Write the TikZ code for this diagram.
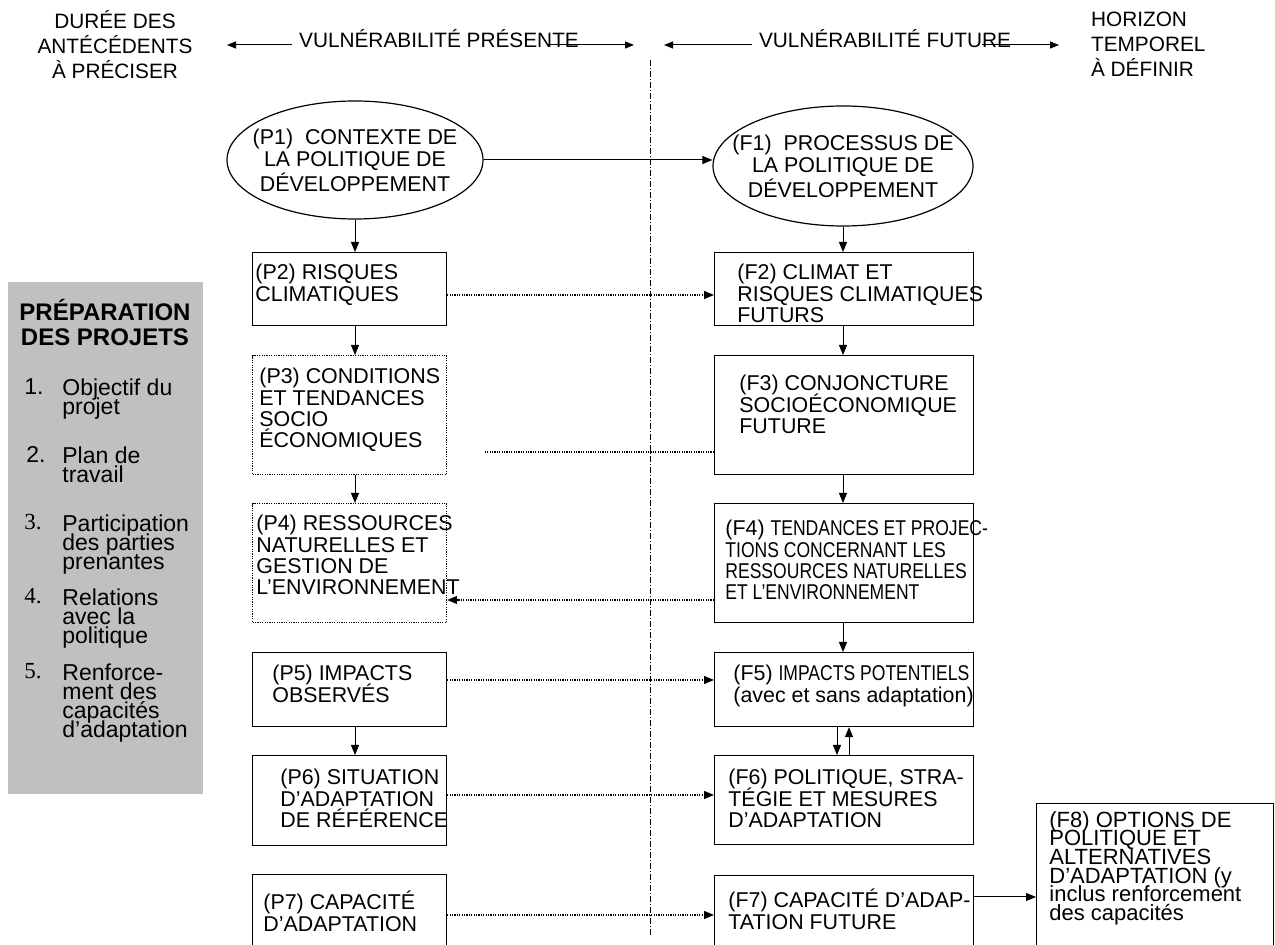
\documentclass[tikz,border=0pt]{standalone}
\usepackage{fontspec}
\setmainfont{Liberation Sans}
\newfontfamily\narrowfont[FakeStretch=0.82]{Liberation Sans}
\newfontfamily\numserif{Liberation Serif}
\usepackage{tikz}
\usetikzlibrary{arrows.meta,shapes.geometric,calc}
\definecolor{panelgray}{RGB}{192,192,192}
\newcommand{\boxfont}{\fontsize{10.7}{10.6}\selectfont\lineskiplimit=-20pt\relax}
\newcommand{\hdfont}{\fontsize{10.4}{12.5}\selectfont}
\newcommand{\ovalfont}{\fontsize{10.7}{11.3}\selectfont}
\newcommand{\titlefont}{\fontsize{12}{12.5}\selectfont\bfseries}
\newcommand{\itemfont}{\fontsize{11.5}{9.6}\selectfont\lineskiplimit=-20pt\relax}
\newcommand{\optfont}{\fontsize{11}{9.3}\selectfont\lineskiplimit=-20pt\relax}
\tikzset{%
  pbox/.style={draw,line width=0.6pt,anchor=north west,inner sep=0pt,minimum width=97pt},
  fbox/.style={draw,line width=0.6pt,anchor=north west,inner sep=0pt,minimum width=129.5pt},
  arrow/.style={-{Triangle[length=5pt,width=4pt]}, line width=0.5pt}%
}

\begin{document}
\begin{tikzpicture}[
    x=0.5pt, y=-0.5pt,
    font=\boxfont,
    oval/.style={
        draw,
        ellipse,
        line width=0.6pt,
        align=center,
        inner xsep=-12pt,
        inner ysep=3pt,
        font=\ovalfont
    },
    txt/.style={anchor=north west, inner sep=0pt, align=left},
    hdtext/.style={font=\hdfont},
    hdarrow/.style={-{Triangle[length=4.5pt,width=3.5pt]}, line width=0.5pt},
    dotbox/.style={dash pattern=on 0.6pt off 0.6pt},
    dotline/.style={dash pattern=on 0.6pt off 0.6pt, line width=0.65pt},
    dotarrow/.style={arrow, dotline},
    divider/.style={dash pattern=on 3pt off 1pt on 0.5pt off 1pt, line width=0.5pt},
    panel/.style={fill=panelgray, anchor=north west, inner sep=0pt},
    item/.style={anchor=north west, inner sep=0pt, align=left, font=\itemfont}
]
\useasboundingbox (0,0) rectangle (1275,945);

% Header: time spans
\node[hdtext, align=center] (hdpast) at (115,45) {DURÉE DES\\ANTÉCÉDENTS\\À PRÉCISER};
\node[hdtext, align=left, anchor=west] (hdfut) at (1084,44) {HORIZON\\TEMPOREL\\À DÉFINIR};
\node[hdtext, anchor=base] (vpres) at (439,48) {VULNÉRABILITÉ PRÉSENTE};
\node[hdtext, anchor=base] (vfut) at (885,48) {VULNÉRABILITÉ FUTURE};

\coordinate (pastend) at (227,45);
\coordinate (presgap) at (547,45);
\coordinate (presend) at (634,45);
\coordinate (futstart) at (664,45);
\coordinate (futgap) at (982,45);
\coordinate (futend) at (1059,45);
\draw[hdarrow] (vpres.west |- pastend) -- (pastend);
\draw[hdarrow] (presgap) -- (presend);
\draw[hdarrow] (vfut.west |- futstart) -- (futstart);
\draw[hdarrow] (futgap) -- (futend);

% Present / future divider
\coordinate (divtop) at (650,60);
\coordinate (divbot) at (650,935);
\draw[divider] (divtop) -- (divbot);

% Project preparation panel
\node[panel, minimum width=97.5pt, minimum height=256pt] (prep) at (8,282) {};
\node[font=\titlefont, align=center, anchor=north] (preptitle) at (105,292) {PRÉPARATION\\DES PROJETS};
\node[item] (num1) at (24,378) {1.};
\node[item] (item1) at (62,378) {Objectif du\\projet};
\node[item] (num2) at (26,446) {2.};
\node[item] (item2) at (62,446) {Plan de\\travail};
\node[item, font=\itemfont\numserif] (num3) at (24,514) {3.};
\node[item] (item3) at (62,514) {Participation\\des parties\\prenantes};
\node[item, font=\itemfont\numserif] (num4) at (24,588) {4.};
\node[item] (item4) at (62,588) {Relations\\avec la\\politique};
\node[item, font=\itemfont\numserif] (num5) at (24,663) {5.};
\node[item] (item5) at (62,663) {Renforce-\\ment des\\capacités\\d’adaptation};

% Development policy ovals
\node[oval, minimum width=128pt, minimum height=59pt] (p1) at (355,160)
{(P1)~ CONTEXTE DE\\LA POLITIQUE DE\\DÉVELOPPEMENT};
\node[oval, minimum width=130pt, minimum height=60pt] (f1) at (843,166)
{(F1)~ PROCESSUS DE\\LA POLITIQUE DE\\DÉVELOPPEMENT};

% Present vulnerability boxes
\node[pbox, minimum height=36.5pt] (p2) at (252,252) {};
\node[pbox, dotbox, minimum height=59.5pt] (p3) at (252,355) {};
\node[pbox, dotbox, minimum height=59.5pt] (p4) at (252,503) {};
\node[pbox, minimum height=37pt] (p5) at (252,652) {};
\node[pbox, minimum height=45pt] (p6) at (252,755) {};
\node[pbox, minimum height=43pt] (p7) at (252,874) {};

\node[txt] (p2t) at (255,264) {(P2) RISQUES\\CLIMATIQUES};
\node[txt] (p3t) at (259,368) {(P3) CONDITIONS\\ET TENDANCES\\SOCIO\\ÉCONOMIQUES};
\node[txt] (p4t) at (256,515) {(P4) RESSOURCES\\NATURELLES ET\\GESTION DE\\L’ENVIRONNEMENT};
\node[txt] (p5t) at (272,665) {(P5) IMPACTS\\OBSERVÉS};
\node[txt] (p6t) at (280,769) {(P6) SITUATION\\D’ADAPTATION\\DE RÉFÉRENCE};
\node[txt] (p7t) at (263,891) {(P7) CAPACITÉ\\D’ADAPTATION};

% Future vulnerability boxes
\node[fbox, minimum height=36.5pt] (f2) at (714,252) {};
\node[fbox, minimum height=59.5pt] (f3) at (714,355) {};
\node[fbox, minimum height=59.5pt] (f4) at (714,503) {};
\node[fbox, minimum height=37pt] (f5) at (714,652) {};
\node[fbox, minimum height=44.5pt] (f6) at (714,755) {};
\node[fbox, minimum height=43pt] (f7) at (714,875) {};
\node[pbox, minimum width=118.5pt, minimum height=78.5pt] (f8) at (1036,803) {};

\node[txt] (f2t) at (737,264) {(F2) CLIMAT ET\\RISQUES CLIMATIQUES\\FUTURS};
\node[txt] (f3t) at (739,375) {(F3) CONJONCTURE\\SOCIOÉCONOMIQUE\\FUTURE};
\node[txt] (f4t) at (725,520) {(F4) {\narrowfont TENDANCES ET PROJEC-}\\{\narrowfont TIONS CONCERNANT LES}\\{\narrowfont RESSOURCES NATURELLES}\\{\narrowfont ET L’ENVIRONNEMENT}};
\node[txt] (f5t) at (733,665) {(F5) {\narrowfont IMPACTS POTENTIELS}\\(avec et sans adaptation)};
\node[txt] (f6t) at (728,769) {(F6) POLITIQUE, STRA-\\TÉGIE ET MESURES\\D’ADAPTATION};
\node[txt] (f7t) at (728,889) {(F7) CAPACITÉ D’ADAP-\\TATION FUTURE};
\node[txt, font=\optfont] (f8t) at (1049,811) {(F8) OPTIONS DE\\POLITIQUE ET\\ALTERNATIVES\\D’ADAPTATION (y\\inclus renforcement\\des capacités};

% Vertical flow
\coordinate (pcol) at (355,0);
\coordinate (fcol) at (843,0);
\coordinate (fdown) at (837,0);
\coordinate (fup) at (849,0);
\draw[arrow] (p1.south) -- (p1.south |- p2.north);
\draw[arrow] (pcol |- p2.south) -- (pcol |- p3.north);
\draw[arrow] (pcol |- p3.south) -- (pcol |- p4.north);
\draw[arrow] (pcol |- p5.south) -- (pcol |- p6.north);
\draw[arrow] (f1.south) -- (f1.south |- f2.north);
\draw[arrow] (fcol |- f2.south) -- (fcol |- f3.north);
\draw[arrow] (fcol |- f3.south) -- (fcol |- f4.north);
\draw[arrow] (fcol |- f4.south) -- (fcol |- f5.north);
\draw[arrow] (fdown |- f5.south) -- (fdown |- f6.north);
\draw[arrow] (fup |- f6.north) -- (fup |- f5.south);

% Present -> future links
\coordinate (row2) at (0,295);
\coordinate (row3) at (0,452);
\coordinate (row4) at (0,600);
\coordinate (row5) at (0,680);
\coordinate (row6) at (0,795);
\coordinate (row7) at (0,915);
\coordinate (row8) at (0,897);
\coordinate (p3cut) at (484,452);
\draw[arrow] (p1.east) -- (p1.east -| f1.west);
\draw[dotarrow] (p2.east |- row2) -- (f2.west |- row2);
\draw[dotline] (f3.west |- row3) -- (p3cut);
\draw[dotarrow] (f4.west |- row4) -- (p4.east |- row4);
\draw[dotarrow] (p5.east |- row5) -- (f5.west |- row5);
\draw[dotarrow] (p6.east |- row6) -- (f6.west |- row6);
\draw[dotarrow] (p7.east |- row7) -- (f7.west |- row7);
\draw[arrow] (f7.east |- row8) -- (f8.west |- row8);

\end{tikzpicture}
\end{document}
